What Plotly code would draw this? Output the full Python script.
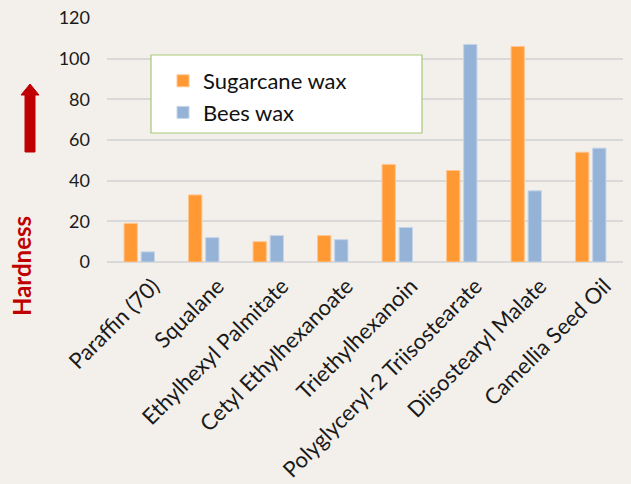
import plotly.graph_objects as go

categories = ["Paraffin (70)", "Squalane", "Ethylhexyl Palmitate", "Cetyl Ethylhexanoate",
              "Triethylhexanoin", "Polyglyceryl-2 Triisostearate", "Diisostearyl Malate",
              "Camellia Seed Oil"]
sugarcane = [19, 33, 10, 13, 48, 45, 106, 54]
bees = [5, 12, 13, 11, 17, 107, 35, 56]
y_ticks = [0, 20, 40, 60, 80, 100, 120]

W, H = 631, 484
L, R, T, B = 107, 8, 18, 222
PW, PH = W - L - R, H - T - B

def px(x):
    return (x - L) / PW

def py(y):
    return (H - B - y) / PH

BG = "#F3F0EB"
FONT = "Lato, Liberation Sans, sans-serif"

fig = go.Figure()
fig.add_trace(go.Bar(name="Sugarcane wax", x=categories, y=sugarcane,
                     marker=dict(color="#FF9933", line=dict(color="#FFC690", width=1)),
                     legendgroup="a"))
fig.add_trace(go.Bar(name="Bees wax", x=categories, y=bees,
                     marker=dict(color="#95B3D7", line=dict(color="#C5D5EA", width=1)),
                     legendgroup="b"))

shapes = [
    # legend box
    dict(type="rect", xref="paper", yref="paper", x0=px(151), x1=px(422), y0=py(133), y1=py(55),
         fillcolor="white", line=dict(color="#A9C77A", width=1.2), layer="above"),
    # red arrow
    dict(type="path", xref="paper", yref="paper",
         path=(f"M {px(25)} {py(152)} L {px(35)} {py(152)} L {px(35)} {py(95)} L {px(39)} {py(95)} "
               f"L {px(30)} {py(84)} L {px(21)} {py(95)} L {px(25)} {py(95)} Z"),
         fillcolor="#C00000", line=dict(color="#C00000", width=1)),
]

fig.update_layout(
    width=W, height=H,
    margin=dict(l=L, r=R, t=T, b=B),
    paper_bgcolor=BG, plot_bgcolor=BG,
    font=dict(family=FONT, color="#1a1a1a"),
    barmode="group", bargap=0.47, bargroupgap=0.22,
    showlegend=True,
    legend=dict(x=px(163), y=py(60), xanchor="left", yanchor="top",
                bgcolor="rgba(0,0,0,0)", borderwidth=0,
                font=dict(size=22, family=FONT, color="#111111"),
                tracegroupgap=0, itemwidth=30),
    shapes=shapes,
    annotations=[dict(text="<b>Hardness</b>", xref="paper", yref="paper",
                      x=px(21), y=py(266), showarrow=False, textangle=-90,
                      font=dict(size=24, color="#C00000", family=FONT),
                      xanchor="center", yanchor="middle")],
    xaxis=dict(tickangle=-45, tickfont=dict(size=22, family=FONT), showgrid=False,
               showline=False, ticks="", fixedrange=True, automargin=False,
               ticklabelstandoff=6, ticklabelshift=14),
    yaxis=dict(range=[0, 120], tickvals=y_ticks, tickfont=dict(size=18, family=FONT),
               showgrid=True, gridcolor="#D9D9D9", gridwidth=2, zeroline=True,
               zerolinecolor="#D9D9D9", zerolinewidth=2, ticklabelstandoff=16,
               showline=False, automargin=False, fixedrange=True),
)

fig.write_html("out.html", config={"displayModeBar": False},
               post_script="document.body.style.margin='0';document.body.style.overflow='hidden';")
